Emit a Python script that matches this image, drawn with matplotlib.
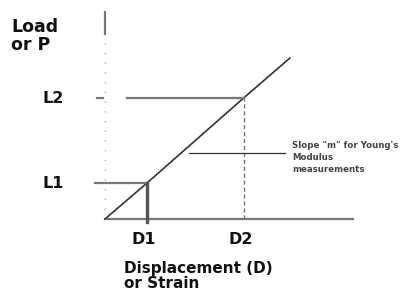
import matplotlib.pyplot as plt

# schematic load / displacement values (origin at 0, 0)
disp = [0.0, 1.0, 3.3, 4.4]
load = [0.0, 1.0, 3.36, 4.47]
d_labels = ["D1", "D2"]
l_labels = ["L1", "L2"]
x_axis_end = 5.9
y_axis_top = 5.75

W, H = 411, 293
fig = plt.figure(figsize=(W / 100, H / 100), dpi=100)
ax = fig.add_axes([0, 0, 1, 1])
# 42 px per displacement unit, 36 px per load unit, origin at pixel (105, 219)
ax.set_xlim(-105 / 42, (W - 105) / 42)
ax.set_ylim(-(H - 219) / 36, 219 / 36)
ax.axis("off")

dark = "#333333"
grey = "#777777"

# axes
ax.plot([0, x_axis_end], [0, 0], color=grey, lw=1.6)
ax.plot([0, 0], [y_axis_top - 0.6, y_axis_top], color=grey, lw=1.6)
ax.plot([0, 0], [0, y_axis_top - 0.6], color="#aaaaaa", lw=1.0, ls=(0, (1, 6)))

# loading line
ax.plot(disp, load, color=dark, lw=1.2)

# L1 / D1
ax.plot([-0.25, disp[1]], [load[1], load[1]], color=grey, lw=1.6)
ax.plot([disp[1], disp[1]], [-0.08, load[1]], color="#555555", lw=2.4)
# L2 / D2
ax.plot([-0.2, -0.05], [load[2], load[2]], color=grey, lw=1.6)
ax.plot([0.52, disp[2]], [load[2], load[2]], color=grey, lw=1.6)
ax.plot([disp[2], disp[2]], [0, load[2]], color=grey, lw=1.0, ls=(0, (3, 2)))

# pointer to slope
ax.plot([2.0, 4.28], [1.83, 1.83], color=dark, lw=0.9)

bold = dict(fontweight="bold", color="#111111", family="DejaVu Sans")
fig.text(11 / W, 1 - 18 / H, "Load\nor P", fontsize=12.5, va="top", ha="left",
         linespacing=1.0, **bold)
for lab, v in zip(l_labels, load[1:3]):
    ax.text(-0.98, v, lab, fontsize=11.5, va="center", ha="right", **bold)
for lab, v in zip(d_labels, disp[1:3]):
    ax.text(v - 0.07, -0.58, lab, fontsize=11.5, va="center", ha="center", **bold)
fig.text(124 / W, 1 - 261 / H, "Displacement (D)\nor Strain", fontsize=11,
         va="top", ha="left", linespacing=1.0, **bold)
fig.text(292 / W, 1 - 141 / H, "Slope \"m\" for Young's\nModulus\nmeasurements",
         fontsize=6.2, va="top", ha="left", linespacing=1.4,
         fontweight="bold", color="#444444")

fig.savefig("out.png", dpi=100, facecolor="white")
